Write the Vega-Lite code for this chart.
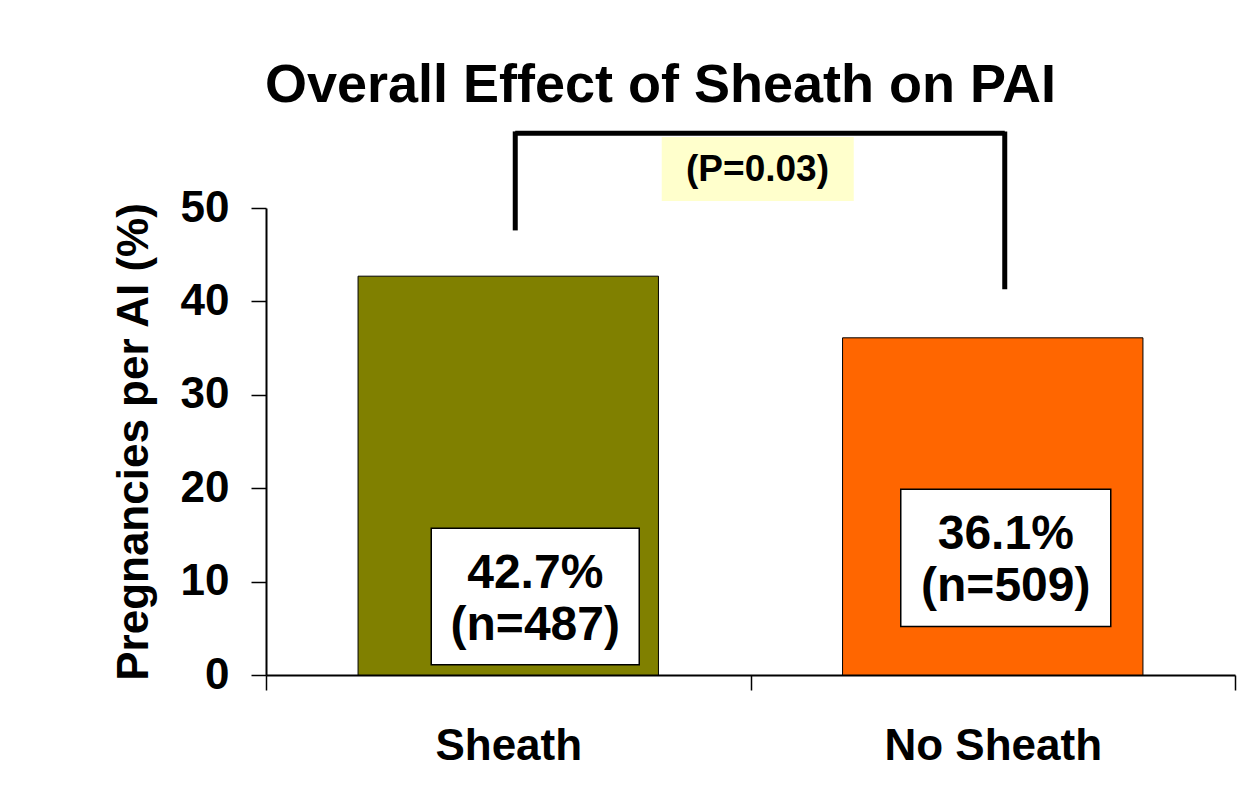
{
  "$schema": "https://vega.github.io/schema/vega-lite/v6.json",
  "width": 969,
  "height": 467,
  "autosize": "none",
  "padding": {"left": 266, "top": 208, "right": 8, "bottom": 134},
  "background": "white",
  "config": {
    "font": "Liberation Sans",
    "view": {"stroke": null}
  },
  "title": {
    "text": "Overall Effect of Sheath on PAI",
    "fontSize": 54,
    "fontWeight": "bold",
    "color": "black",
    "anchor": "middle",
    "dx": -90,
    "offset": 16
  },
  "datasets": {
    "bars": [
      {"group": "Sheath", "pai": 42.7, "label": "42.7%\n(n=487)"},
      {"group": "No Sheath", "pai": 36.1, "label": "36.1%\n(n=509)"}
    ],
    "note": [
      {"label": "(P=0.03)"}
    ]
  },
  "data": {"name": "bars"},
  "encoding": {
    "x": {
      "field": "group",
      "type": "nominal",
      "sort": ["Sheath", "No Sheath"],
      "scale": {"paddingInner": 0, "paddingOuter": 0},
      "axis": {
        "title": null,
        "labelAngle": 0,
        "labelFontSize": 44,
        "labelFontWeight": "bold",
        "labelColor": "black",
        "labelPadding": 34,
        "labelLimit": 0,
        "tickBand": "extent",
        "tickSize": 15,
        "tickColor": "black",
        "tickWidth": 1.5,
        "domainColor": "black",
        "domainWidth": 2
      }
    }
  },
  "layer": [
    {
      "mark": {"type": "bar", "width": {"band": 0.62}, "stroke": "black", "strokeWidth": 1},
      "encoding": {
        "y": {
          "field": "pai",
          "type": "quantitative",
          "scale": {"domain": [0, 50], "nice": false},
          "axis": {
            "values": [0, 10, 20, 30, 40, 50],
            "grid": false,
            "title": "Pregnancies per AI (%)",
            "titleFontSize": 44,
            "titleFontWeight": "bold",
            "titleColor": "black",
            "titlePadding": 24,
            "labelFontSize": 44,
            "labelFontWeight": "bold",
            "labelColor": "black",
            "labelPadding": 22,
            "tickSize": 15,
            "tickColor": "black",
            "tickWidth": 1.5,
            "domainColor": "black",
            "domainWidth": 2
          }
        },
        "color": {
          "field": "group",
          "type": "nominal",
          "scale": {"domain": ["Sheath", "No Sheath"], "range": ["#808000", "#FF6600"]},
          "legend": null
        }
      }
    },
    {
      "transform": [{"filter": "datum.group === 'Sheath'"}],
      "mark": {"type": "bar", "width": 208, "xOffset": 27, "fill": "white", "stroke": "black", "strokeWidth": 1.5},
      "encoding": {"y": {"datum": 15.7}, "y2": {"datum": 1.1}}
    },
    {
      "transform": [{"filter": "datum.group === 'No Sheath'"}],
      "mark": {"type": "bar", "width": 210, "xOffset": 13, "fill": "white", "stroke": "black", "strokeWidth": 1.5},
      "encoding": {"y": {"datum": 19.9}, "y2": {"datum": 5.2}}
    },
    {
      "transform": [{"filter": "datum.group === 'Sheath'"}],
      "mark": {"type": "text", "xOffset": 27, "fontSize": 48, "fontWeight": "bold", "color": "black", "lineBreak": "\n", "lineHeight": 52, "baseline": "middle", "align": "center"},
      "encoding": {"y": {"datum": 10.8}, "text": {"field": "label"}}
    },
    {
      "transform": [{"filter": "datum.group === 'No Sheath'"}],
      "mark": {"type": "text", "xOffset": 13, "fontSize": 48, "fontWeight": "bold", "color": "black", "lineBreak": "\n", "lineHeight": 52, "baseline": "middle", "align": "center"},
      "encoding": {"y": {"datum": 15.0}, "text": {"field": "label"}}
    },
    {
      "data": {"name": "note"},
      "mark": {"type": "rule", "strokeWidth": 5, "color": "black", "xOffset": 7, "x2Offset": 12},
      "encoding": {"x": {"datum": "Sheath"}, "x2": {"datum": "No Sheath"}, "y": {"datum": 58.0}}
    },
    {
      "data": {"name": "note"},
      "mark": {"type": "rule", "strokeWidth": 5, "color": "black", "xOffset": 7},
      "encoding": {"x": {"datum": "Sheath"}, "y": {"datum": 58.2}, "y2": {"datum": 47.6}}
    },
    {
      "data": {"name": "note"},
      "mark": {"type": "rule", "strokeWidth": 5, "color": "black", "xOffset": 12},
      "encoding": {"x": {"datum": "No Sheath"}, "y": {"datum": 58.2}, "y2": {"datum": 41.3}}
    },
    {
      "data": {"name": "note"},
      "mark": {"type": "bar", "width": 192, "xOffset": -235, "fill": "#FFFFCC"},
      "encoding": {"x": {"datum": "No Sheath"}, "y": {"datum": 57.6}, "y2": {"datum": 50.75}}
    },
    {
      "data": {"name": "note"},
      "mark": {"type": "text", "xOffset": 7, "fontSize": 37, "fontWeight": "bold", "color": "black", "baseline": "middle", "align": "center"},
      "encoding": {"x": {"datum": "No Sheath", "bandPosition": 0}, "y": {"datum": 54.1}, "text": {"field": "label"}}
    }
  ]
}
